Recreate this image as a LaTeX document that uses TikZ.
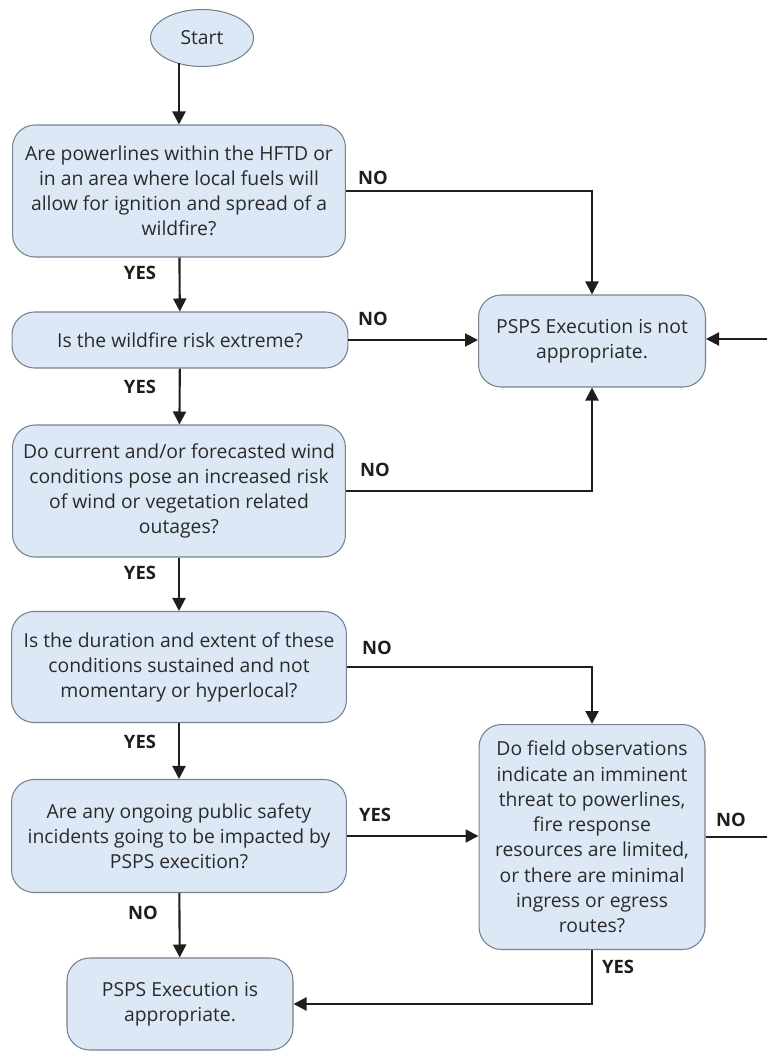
\documentclass[tikz,border=0pt]{standalone}
\usepackage{fontspec}
\setmainfont{Open Sans}
\usetikzlibrary{arrows.meta}
\usetikzlibrary{shapes.geometric}
\definecolor{boxfill}{HTML}{DCE8F6}
\definecolor{boxline}{HTML}{76818D}
\definecolor{flowline}{HTML}{1E1E1E}
\definecolor{boxtext}{HTML}{2A2A2A}
\tikzset{>={Triangle[length=2.6mm,width=2.6mm]}}
\tikzset{
  stepbox/.style={draw=boxline, fill=boxfill, line width=0.6pt, rounded corners=4.5mm,
    align=center, inner sep=0pt, text=boxtext, font=\fontsize{11}{14.2}\selectfont},
  startnode/.style={ellipse, draw=boxline, fill=boxfill, line width=0.6pt, text=boxtext,
    minimum width=2.06cm, minimum height=1.14cm, inner sep=0pt, font=\fontsize{11}{12}\selectfont},
  flow/.style={draw=flowline, line width=1.2pt, ->},
  flowplain/.style={draw=flowline, line width=1.2pt},
  answer/.style={font=\fontsize{10.5}{12}\selectfont\bfseries, text=flowline}
}

\begin{document}
\begin{tikzpicture}[x=0.02cm, y=-0.02cm]
        \useasboundingbox (0,0) rectangle (767,1051);
        % nodes
        \node[startnode] (start) at (202,38) {Start};
        \node[stepbox, minimum width=6.66cm, minimum height=2.64cm] (hftd) at (179,191)
          {Are powerlines within the HFTD or\\in an area where local fuels will\\allow for ignition and spread of a\\wildfire?};
        \node[stepbox, minimum width=6.72cm, minimum height=1.12cm] (risk) at (180,340)
          {Is the wildfire risk extreme?};
        \node[stepbox, minimum width=6.66cm, minimum height=2.64cm] (wind) at (179,491)
          {Do current and/or forecasted wind\\conditions pose an increased risk\\of wind or vegetation related\\outages?};
        \node[stepbox, minimum width=6.7cm, minimum height=2.22cm] (duration) at (179,667)
          {Is the duration and extent of these\\conditions sustained and not\\momentary or hyperlocal?};
        \node[stepbox, minimum width=6.7cm, minimum height=2.26cm] (safety) at (179,836)
          {Are any ongoing public safety\\incidents going to be impacted by\\PSPS execition?};
        \node[stepbox, minimum width=4.54cm, minimum height=1.84cm] (notok) at (592,341)
          {PSPS Execution is not\\appropriate.};
        \node[stepbox, minimum width=4.52cm, minimum height=4.5cm,
          font=\fontsize{11}{14.4}\selectfont] (field) at (592,837)
          {Do field observations\\indicate an imminent\\threat to powerlines,\\fire response\\resources are limited,\\or there are minimal\\ingress or egress\\routes?};
        \node[stepbox, minimum width=4.52cm, minimum height=1.84cm] (ok) at (180,1004)
          {PSPS Execution is\\appropriate.};
        \coordinate (startfoot) at (179,63);
        \coordinate (edgelow) at (773,837);
        \coordinate (edgehigh) at (773,339);
        % lines
        \draw[flow] (startfoot) -- (hftd.north);
        \draw[flow] (hftd.east) -| (notok.north);
        \draw[flow] (hftd) -- (risk);
        \draw[flow] (risk.east) -- (risk.east -| notok.west);
        \draw[flow] (risk) -- (wind);
        \draw[flow] (wind.east) -| (notok.south);
        \draw[flow] (wind) -- (duration);
        \draw[flow] (duration.east) -| (field.north);
        \draw[flow] (duration) -- (safety);
        \draw[flow] (safety.east) -- (safety.east -| field.west);
        \draw[flow] (safety) -- (ok);
        \draw[flowplain] (field.east) -- (edgelow) -- (edgehigh);
        \draw[flow] (edgehigh) -- (edgehigh -| notok.east);
        \draw[flow] (field.south) |- (ok.east);
        % answers
        \node[answer] (no1) at (373,178) {NO};
        \node[answer] (yes1) at (140,273) {YES};
        \node[answer] (no2) at (373,319) {NO};
        \node[answer] (yes2) at (140,387) {YES};
        \node[answer] (no3) at (375,470) {NO};
        \node[answer] (yes3) at (140,573) {YES};
        \node[answer] (no4) at (377,648) {NO};
        \node[answer] (yes4) at (140,742) {YES};
        \node[answer] (yes5) at (375,815) {YES};
        \node[answer] (no5) at (143,913) {NO};
        \node[answer] (no6) at (731,820) {NO};
        \node[answer] (yes6) at (618,967) {YES};
      \end{tikzpicture}
\end{document}
